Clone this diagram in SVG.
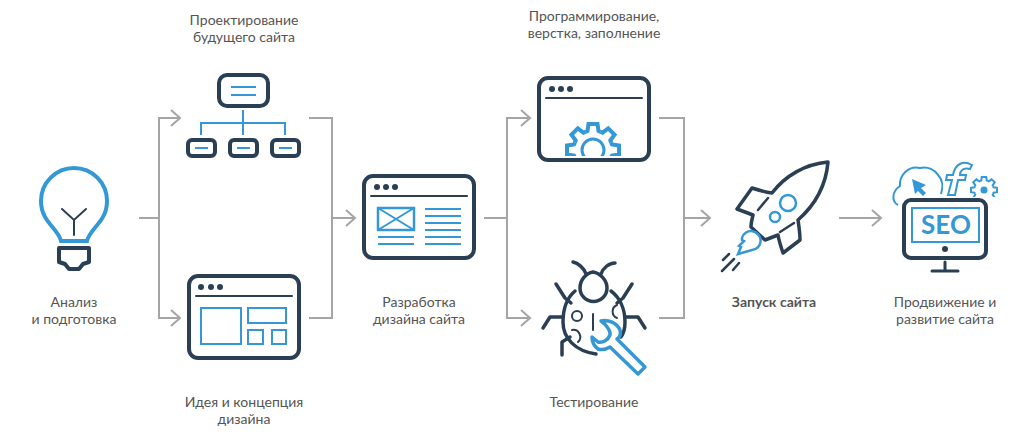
<svg xmlns="http://www.w3.org/2000/svg" xmlns:xlink="http://www.w3.org/1999/xlink" width="1020" height="438" viewBox="0 0 1020 438">
<style>
text{font-family:Lato,"Noto Sans","Liberation Sans",sans-serif;font-size:14px;fill:#555;text-anchor:middle}
.b{font-weight:700}
.c{fill:none;stroke:#a5a5a5;stroke-width:2}
.d{fill:none;stroke:#2b3f54;stroke-width:4;stroke-linejoin:round}
.d2{fill:none;stroke:#2b3f54;stroke-width:2;stroke-linecap:round}
.dot{fill:#2b3f54}
.s{fill:none;stroke:#3498d6;stroke-width:2}
.s3{fill:#fff;stroke:#3498d6;stroke-width:3.5;stroke-linejoin:round}
.s4{fill:none;stroke:#3498d6;stroke-width:4}
</style>
<defs>
<marker id="ah" markerUnits="userSpaceOnUse" markerWidth="14" markerHeight="20" viewBox="-11 -10 14 20" refX="0" refY="0" orient="auto"><path d="M-9-8L0 0-9 8" fill="none" stroke="#a5a5a5" stroke-width="2"/></marker>
<path id="t" d="M-7.5-18L-5.500-19-4.500-26H4.500L5.500-19 7.500-18"/>
<g id="gear"><use xlink:href="#t"/><use xlink:href="#t" transform="rotate(45)"/><use xlink:href="#t" transform="rotate(90)"/><use xlink:href="#t" transform="rotate(135)"/><use xlink:href="#t" transform="rotate(180)"/><use xlink:href="#t" transform="rotate(225)"/><use xlink:href="#t" transform="rotate(270)"/><use xlink:href="#t" transform="rotate(315)"/></g>
<clipPath id="cg"><rect x="560" y="118" width="70" height="38"/></clipPath>
<clipPath id="cg2"><rect x="965" y="170" width="40" height="27"/></clipPath>
</defs>
<g id="connectors">
<path class="c" d="M139 218H159"/>
<path class="c" d="M159 218V318H180" marker-end="url(#ah)"/>
<path class="c" d="M159 218V118H180" marker-end="url(#ah)"/>
<path class="c" d="M309 118H332V318H309"/>
<path class="c" d="M332 218H355" marker-end="url(#ah)"/>
<path class="c" d="M484 218H507"/>
<path class="c" d="M507 218V318H530" marker-end="url(#ah)"/>
<path class="c" d="M507 218V118H530" marker-end="url(#ah)"/>
<path class="c" d="M659 118H684V318H659"/>
<path class="c" d="M684 218H710" marker-end="url(#ah)"/>
<path class="c" d="M839 218H881" marker-end="url(#ah)"/>
</g>
<g id="analysis">
<path class="s4" d="M61 241C58 228 41 222 41 201A33 33 0 0 1 107 201C107 222 90 228 87 241Z"/>
<path d="M62 209L74 220 86 209M74 220V235" class="d2" stroke-linecap="butt"/>
<path class="d" d="M59 248H89V262L83 264 79 269H69L65 264 59 262Z"/>
<text x="74" y="307">Анализ</text><text x="74" y="324">и подготовка</text>
</g>
<g id="planning">
<rect class="d" x="219" y="75" width="49" height="31" rx="8"/>
<path class="s" d="M231 87H256M231 95H256M243 110V135M201 135V123H285V135"/>
<rect class="d" x="188" y="140" width="27" height="16" rx="4"/><rect class="d" x="230" y="140" width="27" height="16" rx="4"/><rect class="d" x="272" y="140" width="27" height="16" rx="4"/>
<path class="s" d="M195 148H208M237 148H250M279 148H292"/>
<text x="244" y="25">Проектирование</text><text x="244" y="42">будущего сайта</text>
</g>
<g id="concept">
<rect class="d" x="189" y="276" width="110" height="82" rx="9"/>
<circle class="dot" cx="201" cy="287" r="3"/><circle class="dot" cx="211" cy="287" r="3"/><circle class="dot" cx="220" cy="287" r="3"/>
<path class="d2" stroke-linecap="butt" d="M196 296H292"/>
<rect class="s" x="201" y="308" width="40" height="36"/><rect class="s" x="248" y="308" width="38" height="15"/><rect class="s" x="248" y="330" width="15" height="14"/><rect class="s" x="272" y="330" width="14" height="14"/>
<text x="244" y="407">Идея и концепция</text><text x="244" y="424">дизайна</text>
</g>
<g id="design">
<rect class="d" x="364" y="176" width="110" height="82" rx="9"/>
<circle class="dot" cx="377" cy="187" r="3"/><circle class="dot" cx="386" cy="187" r="3"/><circle class="dot" cx="395" cy="187" r="3"/>
<path class="d2" stroke-linecap="butt" d="M371 196H467"/>
<rect class="s" style="stroke-width:2.500px" x="378" y="208" width="36" height="22"/>
<path class="s" d="M378 208L414 230M414 208L378 230M378 237H414M378 244H414M425 209H461M425 216H461M425 223H461M425 230H461M425 237H461M425 244H461"/>
<text x="419" y="307">Разработка</text><text x="419" y="324">дизайна сайта</text>
</g>
<g id="coding">
<rect class="d" x="539" y="78" width="110" height="82" rx="9"/>
<circle class="dot" cx="552" cy="89" r="3"/><circle class="dot" cx="561" cy="89" r="3"/><circle class="dot" cx="570" cy="89" r="3"/>
<path class="d2" stroke-linecap="butt" d="M546 98H642"/>
<g clip-path="url(#cg)"><use xlink:href="#gear" transform="translate(593 150)" fill="none" stroke="#3498d6" stroke-width="4"/><circle cx="593" cy="150" r="11" fill="none" stroke="#3498d6" stroke-width="3"/></g>
<text x="594" y="21">Программирование,</text><text x="594" y="38">верстка, заполнение</text>
</g>
<g id="testing">
<path class="d" style="stroke-width:3.500px;stroke-linecap:round" d="M593 272C586 273 580 280 580 288A13.500 13.500 0 0 0 607 288C607 280 600 273 593 272ZM586 274C584 268 578 263 573 262M601 274C603 268 609 263 615 263"/>
<path class="d" style="stroke-width:3.500px;stroke-linecap:round" d="M575 291C568 297 563 308 563 322C563 338 575 351 596 354M611 291C619 297 625 308 625 322C625 328 624 333 621 337"/>
<path class="d" style="stroke-width:3.500px;stroke-linecap:round" d="M556 284L565 298 571 303M632 284L623 298 617 303M543 328L550 317H563M645 328L638 317H625M562 355V342L570 337"/>
<circle cx="577" cy="316" r="5" fill="none" stroke="#2b3f54" stroke-width="2"/>
<path class="d2" d="M593 314V330M572 330A7 7 0 0 1 578 342M617 305A7 7 0 0 0 617 318"/>
<path class="s3" d="M601 321C608 319 617 323 620 330 621 334 620 337 617 339L645 367 638 374 610 347C605 350 601 350 598 349 594 346 592 342 592 337L598 342C603 343 608 340 610 335 611 332 607 325 601 321Z"/>
<text x="594" y="407">Тестирование</text>
</g>
<g id="launch">
<path class="d" style="stroke-width:3.500px" d="M828 162C805 164 785 176 772 193 765 192 758 190 752 188 747 195 742 202 737 209L753 215C752 219 751 223 751 227L765 240 778 235C779 241 781 247 783 253L800 240C800 233 799 227 798 220 815 205 826 185 828 162Z"/>
<path class="d2" style="stroke-width:2.500px" d="M758 210L768 198M780 232L794 223M723 260L729 254M722 271L734 259M733 270L739 263"/>
<circle cx="788" cy="203" r="8" fill="none" stroke="#3498d6" stroke-width="2.500"/><circle cx="775" cy="217" r="5" fill="none" stroke="#3498d6" stroke-width="2.500"/>
<path class="s" style="stroke-width:2.500px" d="M742 238A9.500 9.500 0 1 1 752 250L738 254 741 247 739 246 744 241 742 240Z"/>
<text class="b" x="774" y="307">Запуск сайта</text>
</g>
<g id="seo">
<path class="s" d="M898 205C892 202 891 192 900 186 899 175 909 165 920 168 928 166 935 170 938 175 943 180 943 188 941 194"/>
<path d="M912 179L926 185 921 188 926 193 923 196 918 191 915 194Z" fill="#3498d6"/>
<path class="s" d="M948 195H955L958 180H965L966 175H960C960 171 963 167 970 169L972 165C963 160 955 164 953 175H947L946 180H952Z"/>
<g clip-path="url(#cg2)"><use xlink:href="#gear" transform="translate(984 190) scale(.5)" fill="none" stroke="#3498d6" stroke-width="4"/></g>
<circle cx="984" cy="190" r="3.500" fill="#3498d6"/>
<rect class="d" x="904" y="200" width="82" height="58" rx="7"/>
<rect class="s" x="912" y="208" width="67" height="34"/>
<text x="946" y="234" style="font-size:26px;font-weight:700;fill:#3498d6">SEO</text>
<circle class="dot" cx="945" cy="249" r="3"/>
<path class="d2" style="stroke-width:3px" d="M945 262V270M932 271H958"/>
<text x="945" y="307">Продвижение и</text><text x="945" y="324">развитие сайта</text>
</g>
</svg>
